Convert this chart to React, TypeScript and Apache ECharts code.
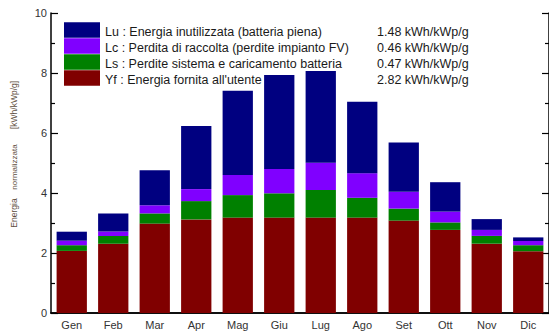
import React, { useEffect, useRef } from "react";
import * as echarts from "echarts";

const months = ["Gen", "Feb", "Mar", "Apr", "Mag", "Giu", "Lug", "Ago", "Set", "Ott", "Nov", "Dic"];
const yf = [2.07, 2.31, 2.98, 3.12, 3.18, 3.18, 3.18, 3.18, 3.08, 2.77, 2.31, 2.06];
const ls = [0.19, 0.26, 0.34, 0.61, 0.75, 0.81, 0.92, 0.66, 0.4, 0.25, 0.26, 0.2];
const lc = [0.15, 0.15, 0.27, 0.4, 0.67, 0.81, 0.91, 0.82, 0.56, 0.36, 0.2, 0.14];
const lu = [0.3, 0.6, 1.17, 2.1, 2.81, 3.13, 3.06, 2.38, 1.64, 0.98, 0.36, 0.12];

const seriesNames = [
  "Lu : Energia inutilizzata (batteria piena)",
  "Lc : Perdita di raccolta (perdite impianto FV)",
  "Ls : Perdite sistema e caricamento batteria",
  "Yf : Energia fornita all'utente",
];
const seriesTotals = ["1.48 kWh/kWp/g", "0.46 kWh/kWp/g", "0.47 kWh/kWp/g", "2.82 kWh/kWp/g"];
const colors = ["#000080", "#8000ff", "#008000", "#800000"];

export default function App() {
  const ref = useRef<HTMLDivElement>(null);
  useEffect(() => {
    if (!ref.current) return;
    const chart = echarts.init(ref.current, null, { renderer: "svg" });
    const font = "'Liberation Sans', Arial, Helvetica, sans-serif";
    const values = [lu, lc, ls, yf];
    const order = [3, 2, 1, 0];
    const tickStyle = { color: "#000", width: 1.2 };
    const nameStyle = { fill: "#5e4e40", fontFamily: font, align: "center", verticalAlign: "middle" };
    chart.setOption({
      animation: false,
      textStyle: { fontFamily: font },
      grid: { left: 51, right: -2, top: 13, bottom: 18 },
      legend: {
        orient: "vertical",
        left: 64,
        top: 22,
        padding: 0,
        itemWidth: 36,
        itemHeight: 15.5,
        itemGap: 0,
        icon: "rect",
        selectedMode: false,
        data: seriesNames,
        formatter: (name: string) => {
          const i = seriesNames.indexOf(name);
          return `{a|${name}}{b|${seriesTotals[i]}}`;
        },
        textStyle: {
          fontFamily: font,
          rich: {
            a: { fontSize: 12.5, color: "#1a1a1a", width: 272, fontFamily: font, lineHeight: 15.5, padding: [3, 0, 0, 0] },
            b: { fontSize: 12.5, color: "#1a1a1a", fontFamily: font, lineHeight: 15.5, padding: [3, 0, 0, 0] },
          },
        },
      },
      xAxis: [
        {
          type: "category",
          data: months,
          position: "bottom",
          axisLine: { lineStyle: { color: "#000", width: 1.5 } },
          axisTick: { inside: true, length: 7, lineStyle: tickStyle },
          axisLabel: { color: "#333", fontSize: 11, margin: 6, fontFamily: font },
        },
        {
          type: "category",
          data: months,
          position: "top",
          axisLine: { lineStyle: { color: "#000", width: 1.5 } },
          axisTick: { inside: true, length: 7, lineStyle: tickStyle },
          axisLabel: { show: false },
        },
      ],
      yAxis: [
        {
          type: "value",
          min: 0,
          max: 10,
          interval: 2,
          position: "left",
          axisLine: { show: true, lineStyle: { color: "#000", width: 1.5 } },
          axisTick: { show: true, inside: true, length: 7, lineStyle: tickStyle },
          minorTick: { show: true, splitNumber: 2, length: 4, lineStyle: tickStyle },
          splitLine: { show: false },
          axisLabel: { color: "#333", fontSize: 11, margin: 4, fontFamily: font },
        },
        {
          type: "value",
          min: 0,
          max: 10,
          interval: 2,
          position: "right",
          axisLine: { show: true, lineStyle: { color: "#000", width: 1.5 } },
          axisTick: { show: true, inside: true, length: 7, lineStyle: tickStyle },
          minorTick: { show: true, splitNumber: 2, length: 4, lineStyle: tickStyle },
          splitLine: { show: false },
          axisLabel: { show: false },
        },
      ],
      series: order.map((i) => ({
        name: seriesNames[i],
        type: "bar",
        stack: "tot",
        barWidth: "73%",
        data: values[i],
        itemStyle: { color: colors[i] },
      })),
      graphic: [
        {
          type: "text",
          x: 14,
          y: 213,
          rotation: Math.PI / 2,
          style: { ...nameStyle, text: "Energia", fontSize: 8.5 },
        },
        {
          type: "text",
          x: 14,
          y: 167,
          rotation: Math.PI / 2,
          style: { ...nameStyle, text: "normalizzata", fontSize: 8 },
        },
        {
          type: "text",
          x: 14,
          y: 105,
          rotation: Math.PI / 2,
          style: { ...nameStyle, text: "[kWh/kWp/g]", fontSize: 8.5 },
        },
      ],
    });
    return () => chart.dispose();
  }, []);
  return (
    <div
      ref={ref}
      style={{ position: "fixed", left: 0, top: 0, width: 549, height: 331, background: "#fff" }}
    />
  );
}
